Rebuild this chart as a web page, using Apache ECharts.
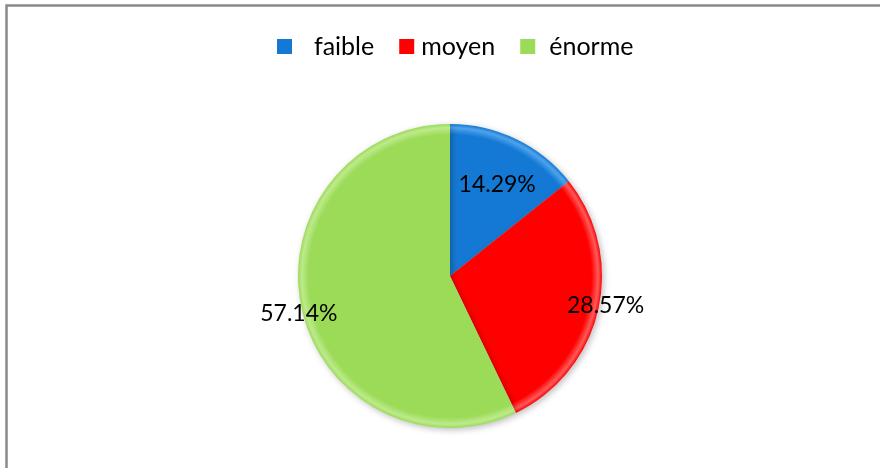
<!DOCTYPE html>
<html>
<head>
<meta charset="utf-8">
<script src="https://cdn.jsdelivr.net/npm/echarts@6/dist/echarts.min.js"></script>
<style>
  html, body { margin: 0; padding: 0; background: #ffffff; }
  #chart { width: 880px; height: 468px; }
</style>
</head>
<body>
<div id="chart"></div>
<script>
// ---- data ----
const categories = ['faible', 'moyen', 'énorme'];
const values = [1, 2, 4];
const labelTexts = ['14.29%', '28.57%', '57.14%'];

// ---- style ----
const baseColors = ['#1479D4', '#FF0000', '#9CDB58'];
const rimColors = ['#4FA3EC', '#FF5A5A', '#BDEA8C'];
const center = [450, 276];
const radius = 152;
const labelRadiusFactor = [0.67, 1.05, 1.02];
const labelNudge = [[3, 0], [0, -6], [0, 3]];
const legendTextPad = [17, 2, 9];

const total = values.reduce((a, b) => a + b, 0);
const midAngles = [];
let acc = 0;
values.forEach(v => { midAngles.push((acc + v / 2) / total * 2 * Math.PI); acc += v; });

function grad(i) {
  return {
    type: 'radial', x: center[0], y: center[1], r: radius, global: true,
    colorStops: [
      { offset: 0, color: baseColors[i] },
      { offset: 0.93, color: baseColors[i] },
      { offset: 0.975, color: rimColors[i] },
      { offset: 1, color: baseColors[i] }
    ]
  };
}

const chart = echarts.init(document.getElementById('chart'), null, { renderer: 'canvas' });
chart.setOption({
  backgroundColor: '#ffffff',
  animation: false,
  graphic: [{
    type: 'rect',
    shape: { x: 6.5, y: 5.5, width: 1000, height: 1000 },
    style: { fill: 'none', stroke: '#8a8a8a', lineWidth: 2.5 },
    z: 100
  }],
  legend: {
    left: 272,
    top: 29,
    itemWidth: 15,
    itemHeight: 15,
    itemGap: 25,
    icon: 'rect',
    textStyle: { fontFamily: 'Lato', fontSize: 25, color: '#000000' },
    data: categories.map((c, i) => ({
      name: c,
      textStyle: { padding: [0, 0, 0, legendTextPad[i]] }
    }))
  },
  series: [{
    type: 'pie',
    center: center,
    radius: radius,
    startAngle: 90,
    clockwise: true,
    silent: true,
    label: {
      show: true,
      position: 'inside',
      fontFamily: 'Lato',
      fontSize: 23,
      color: '#000000',
      formatter: p => labelTexts[p.dataIndex]
    },
    labelLine: { show: false },
    labelLayout: function (p) {
      const i = p.dataIndex;
      const a = midAngles[i];
      const r = radius * labelRadiusFactor[i];
      return {
        x: center[0] + r * Math.sin(a) + labelNudge[i][0],
        y: center[1] - r * Math.cos(a) + labelNudge[i][1],
        align: 'center',
        verticalAlign: 'middle'
      };
    },
    itemStyle: {
      borderWidth: 0,
      shadowBlur: 6,
      shadowOffsetX: 2,
      shadowOffsetY: 2,
      shadowColor: 'rgba(0,0,0,0.25)'
    },
    data: categories.map((c, i) => ({
      name: c,
      value: values[i],
      itemStyle: { color: grad(i) }
    }))
  }]
});
</script>
</body>
</html>
